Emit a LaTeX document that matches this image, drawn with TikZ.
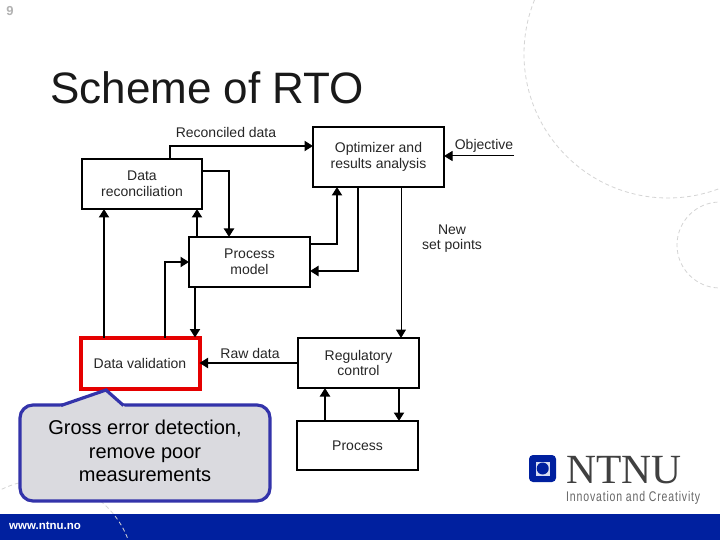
\documentclass[tikz,border=0pt]{standalone}
\usepackage{graphicx}
\usepackage{fontspec}
\setmainfont{Liberation Sans}
\newfontfamily\logoserif{Liberation Serif}
\usetikzlibrary{arrows.meta}
\definecolor{ntnublue}{HTML}{00209F}
\definecolor{calloutblue}{HTML}{3333AA}
\definecolor{calloutfill}{HTML}{DADADF}
\definecolor{ringgray}{HTML}{D4D4D4}
\tikzset{
  x=1pt,y=-1pt,
  box/.style={draw=black,line width=2pt,fill=white,inner sep=0pt,outer sep=0pt,align=center,font=\fontsize{14}{15.5}\selectfont,text=black!85},
  lbl/.style={inner sep=0pt,align=center,font=\fontsize{14}{15.5}\selectfont,text=black!85},
  heavy/.style={draw=black,line width=2pt,-{Triangle[length=8.5pt,width=10pt]}},
  light/.style={draw=black,line width=1pt,-{Triangle[length=8.5pt,width=10pt]}},
  ring/.style={draw=ringgray,line width=0.8pt,dash pattern=on 4pt off 3pt},
}
\begin{document}
\begin{tikzpicture}
\useasboundingbox (0,0) rectangle (720,540);
\fill[white] (0,0) rectangle (720,540);
% footer band
\fill[ntnublue] (0,514) rectangle (720,540);
% background rings
\begin{scope}
\clip (0,0) rectangle (720,540);
\draw[ring] (668,54) circle[radius=144];
\draw[ring] (720,245) circle[radius=43];
\draw[ring] (42,572) circle[radius=92];
\end{scope}
\node[inner sep=0pt,text=black!30,font=\bfseries\fontsize{13}{14}\selectfont] (pagenum) at (10,11) {9};
\node[inner sep=0pt,anchor=west,font=\fontsize{44}{48}\selectfont,text=black!90] (title) at (50,88) {Scheme of RTO};
% boxes
\node[box,minimum width=120pt,minimum height=50pt] (recon) at (142,184) {Data\\reconciliation};
\node[box,minimum width=121pt,minimum height=50pt] (model) at (249.5,262) {Process\\model};
\node[box,minimum width=131pt,minimum height=60pt] (opt) at (378.5,157) {Optimizer and\\results analysis};
\node[box,draw=red!90!black,line width=4pt,minimum width=119pt,minimum height=51pt] (valid) at (140,363) {Data validation};
\node[box,minimum width=121pt,minimum height=50pt] (reg) at (358.5,363) {Regulatory\\control};
\node[box,minimum width=121pt,minimum height=49pt] (proc) at (357.5,445.5) {Process};
% labels
\node[lbl] (lrec) at (226,132) {Reconciled data};
\node[lbl] (lobj) at (484,146) {Objective};
\node[lbl] (lnew) at (452,238.5) {New\\set points};
\node[lbl] (lraw) at (250,353) {Raw data};
\coordinate (objend) at (514,156);
% connectors
\draw[heavy] ([xshift=28pt]recon.north) |- ([yshift=11pt]opt.west);
\draw[heavy] ([yshift=13pt]recon.east) -| ([xshift=-20.5pt]model.north);
\draw[heavy] ([xshift=-52.5pt]model.north) -- ([xshift=55pt]recon.south);
\draw[heavy] ([xshift=-36pt]valid.north) -- ([xshift=-38pt]recon.south);
\draw[heavy] ([xshift=25pt]valid.north) |- (model.west);
\draw[heavy] ([xshift=-54.5pt]model.south) -- ([xshift=55pt]valid.north);
\draw[heavy] ([yshift=18pt]model.east) -| ([xshift=-41.5pt]opt.south);
\draw[heavy] ([xshift=-21pt]opt.south) |- ([yshift=-9pt]model.east);
\draw[light] ([xshift=22.5pt]opt.south) -- ([xshift=42.5pt]reg.north);
\draw[light] (objend) -- ([yshift=1pt]opt.east);
\draw[heavy] (reg.west) -- (valid.east);
\draw[heavy] ([xshift=40.5pt]reg.south) -- ([xshift=41.5pt]proc.north);
\draw[heavy] ([xshift=-32.5pt]proc.north) -- ([xshift=-33.5pt]reg.south);
% callout
\draw[draw=calloutblue,line width=3.2pt,fill=calloutfill,rounded corners=13pt]
  (20,405) -- (270,405) -- (270,501) -- (20,501) -- cycle;
\fill[calloutfill] (60,407) -- (106,390) -- (125,407) -- cycle;
\draw[draw=calloutblue,line width=3.2pt,line join=miter] (61,405.5) -- (106,390) -- (123.5,405.5);
\node[inner sep=0pt,align=center,text=black,font=\fontsize{20}{23.5}\selectfont] (gross) at (145,451) {Gross error detection,\\remove poor\\measurements};
% logo
\fill[ntnublue,rounded corners=4pt] (529,455) rectangle (556,482);
\fill[white!85!ntnublue] (535.5,461.5) rectangle (549.5,475.5);
\fill[ntnublue] (542.7,468.5) circle[radius=6];
\node[inner sep=0pt,anchor=base west,text depth=0pt,text=black!75,font=\logoserif\fontsize{41.5}{43}\selectfont] (ntnu) at (566,483) {NTNU};
\node[inner sep=0pt,anchor=base west,text=black!60,font=\fontsize{14}{15}\selectfont] (slogan) at (566,501) {\scalebox{0.75}[1]{\addfontfeature{LetterSpace=8}Innovation and Creativity}};
\node[inner sep=0pt,anchor=west,text=white,font=\bfseries\fontsize{11.5}{12}\selectfont] (web) at (9,525.5) {www.ntnu.no};
\end{tikzpicture}
\end{document}
